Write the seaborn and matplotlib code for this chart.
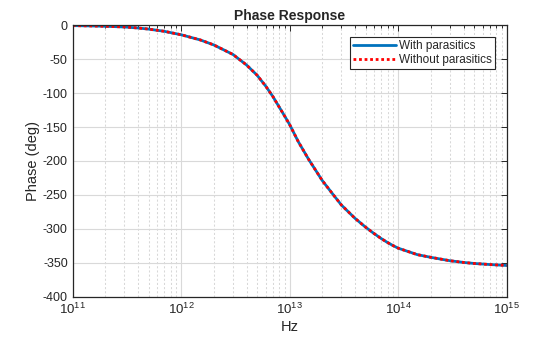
import numpy as np
import pandas as pd
import matplotlib
matplotlib.use("Agg")
import matplotlib.pyplot as plt
from matplotlib.ticker import LogLocator, NullFormatter
import seaborn as sns

# Frequency points (Hz) and phase (deg) of the response
freq_hz = [1e11, 1.5e11, 2e11, 3e11, 4e11, 5e11, 7e11, 1e12, 1.5e12, 2e12,
           3e12, 4e12, 5e12, 6e12, 7e12, 8e12, 9e12, 1e13, 1.2e13, 1.5e13,
           2e13, 2.5e13, 3e13, 4e13, 5e13, 6e13, 7e13, 8e13, 9e13, 1e14,
           1.5e14, 2e14, 3e14, 4e14, 5e14, 7e14, 1e15]
phase_with = [-0.5, -1.0, -1.5, -2.5, -4.0, -5.6, -8.9, -14.0, -21.6, -29.0,
              -43.0, -58.5, -73.5, -89.5, -105.0, -120.5, -134.0, -146.5,
              -171.5, -198.0, -229.0, -249.0, -265.0, -284.5, -297.5, -307.0,
              -314.5, -320.3, -324.8, -328.5, -338.0, -342.0, -347.0, -349.5,
              -351.0, -352.6, -354.0]
phase_without = list(phase_with)

series_labels = ["With parasitics", "Without parasitics"]
y_ticks = [0, -50, -100, -150, -200, -250, -300, -350, -400]

df = pd.DataFrame({
    "Hz": freq_hz * 2,
    "phase": phase_with + phase_without,
    "series": [series_labels[0]] * len(freq_hz) + [series_labels[1]] * len(freq_hz),
})

sns.set_style("white")
plt.rcParams["font.family"] = ["Liberation Sans", "DejaVu Sans"]
plt.rcParams["mathtext.fontset"] = "custom"
plt.rcParams["mathtext.rm"] = "Liberation Sans"
plt.rcParams["mathtext.it"] = "Liberation Sans"
plt.rcParams["axes.unicode_minus"] = False

fig = plt.figure(figsize=(5.6, 3.37), dpi=100)
ax = fig.add_axes([0.1298, 0.1196, 0.7750, 0.8054])

ink = "#262626"
blue = (0.0, 0.447, 0.741)

sns.lineplot(data=df, x="Hz", y="phase", hue="series", style="series",
             palette={series_labels[0]: blue, series_labels[1]: "red"},
             dashes={series_labels[0]: "", series_labels[1]: (1.0, 1.0)},
             linewidth=2, ax=ax, legend=False)

ax.set_xscale("log")
ax.set_xlim(1e11, 1e15)
ax.set_ylim(-400, 0)
ax.set_yticks(y_ticks)
ax.set_xticks([1e11, 1e12, 1e13, 1e14, 1e15])
ax.xaxis.set_minor_locator(LogLocator(base=10, subs=np.arange(2, 10), numticks=20))
ax.xaxis.set_minor_formatter(NullFormatter())

ax.grid(True, which="major", axis="both", color="#d9d9d9", linewidth=0.8, linestyle="-")
ax.grid(True, which="minor", axis="x", color="#d8d8d8", linewidth=0.75, linestyle=(0, (2, 2)))
ax.set_axisbelow(True)

for sp in ax.spines.values():
    sp.set_color(ink)
    sp.set_linewidth(0.9)

ax.tick_params(which="both", direction="in", top=True, right=True, colors=ink,
               labelsize=9, width=0.7)
ax.tick_params(axis="x", which="major", labelsize=9.5)
ax.tick_params(which="major", length=4)
ax.tick_params(which="minor", length=2.5)

ax.set_xlabel("Hz", fontsize=10.5, color=ink, labelpad=2)
ax.set_ylabel("Phase (deg)", fontsize=10.5, color=ink, labelpad=2)
ax.set_title("Phase Response", fontsize=10, fontweight="bold", color=ink, pad=4)

handles = [plt.Line2D([], [], color=blue, linewidth=2),
           plt.Line2D([], [], color="red", linewidth=2, linestyle=(0, (1.0, 1.0)))]
leg = ax.legend(handles, series_labels, loc="upper right", fontsize=8.5,
                frameon=True, fancybox=False, edgecolor=ink, framealpha=1,
                handlelength=3.6, handletextpad=0.3, borderpad=0.25,
                labelspacing=0.15, borderaxespad=1.0)
leg.get_frame().set_linewidth(0.8)

fig.savefig("out.png", dpi=100)
